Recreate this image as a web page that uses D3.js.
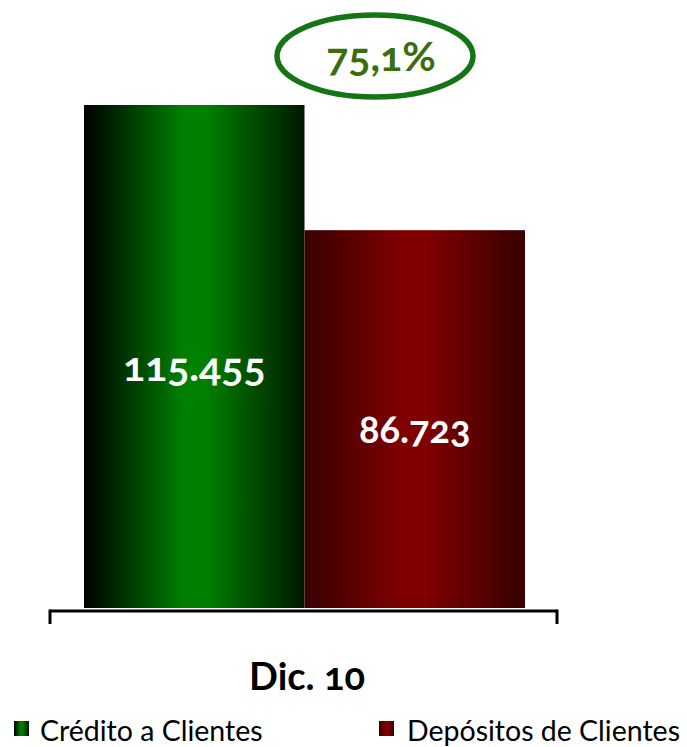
<!DOCTYPE html>
<html><head><meta charset="utf-8">
<script src="https://cdn.jsdelivr.net/npm/d3@7/dist/d3.min.js"></script>
<style>
body{margin:0;background:#fff;}
text{font-family:Lato,"Open Sans",sans-serif;font-variant-numeric:oldstyle-nums;font-feature-settings:"onum" 1;}
</style></head><body>
<svg id="c" width="687" height="747"></svg>
<script>
const categories = ["Dic. 10"];
const series = ["Crédito a Clientes", "Depósitos de Clientes"];
const values = [115455, 86723];
const valueLabels = ["115.455", "86.723"];
const ratioLabel = "75,1%";

const svg = d3.select("#c");
const defs = svg.append("defs");
const grads = [
  {id:"gG", edgeL:"#000000", mid:"#008000", edgeR:"#001800"},
  {id:"gR", edgeL:"#380000", mid:"#800000", edgeR:"#380000"}
];
grads.forEach(g=>{
  const lg = defs.append("linearGradient").attr("id",g.id).attr("x1","0").attr("x2","1").attr("y1","0").attr("y2","0");
  lg.append("stop").attr("offset","0").attr("stop-color",g.edgeL);
  lg.append("stop").attr("offset","0.45").attr("stop-color",g.mid);
  lg.append("stop").attr("offset","0.55").attr("stop-color",g.mid);
  lg.append("stop").attr("offset","1").attr("stop-color",g.edgeR);
});

const baseY = 608;
const y = d3.scaleLinear().domain([0, 115455]).range([baseY, 105]);
const x0 = d3.scaleBand().domain(categories).range([84, 525]).padding(0);
const x1 = d3.scaleBand().domain(series).range([0, x0.bandwidth()]);

const g = svg.append("g");
g.selectAll("rect.bar").data(series.map((s,i)=>({s,i,v:values[i]})))
  .enter().append("rect").attr("class","bar")
  .attr("x", d=>x0(categories[0]) + x1(d.s))
  .attr("width", x1.bandwidth())
  .attr("y", d=>y(d.v))
  .attr("height", d=>baseY - y(d.v))
  .attr("fill", d=>`url(#${grads[d.i].id})`);

g.selectAll("text.val").data(series.map((s,i)=>({s,i,v:values[i]})))
  .enter().append("text").attr("class","val")
  .attr("x", d=>x0(categories[0]) + x1(d.s) + x1.bandwidth()/2)
  .attr("y", d=>(y(d.v)+baseY)/2 + 24)
  .attr("text-anchor","middle")
  .attr("fill","#fff").attr("font-weight","bold")
  .attr("font-size", (d)=>d.i===0?41:38)
  .text(d=>valueLabels[d.i]);

// axis
const axis = svg.append("g");
axis.append("line").attr("x1",50).attr("x2",557).attr("y1",611).attr("y2",611).attr("stroke","#000").attr("stroke-width",3);
[50,557].forEach(xx=>axis.append("line").attr("x1",xx).attr("x2",xx).attr("y1",609.5).attr("y2",624).attr("stroke","#000").attr("stroke-width",3));

svg.append("text").attr("x", 307).attr("y", 690)
  .attr("text-anchor","middle").attr("font-weight","bold").attr("font-size",38).attr("fill","#000")
  .text(categories[0]);

// ellipse ratio
svg.append("ellipse").attr("cx",375).attr("cy",56).attr("rx",98).attr("ry",41)
  .attr("fill","none").attr("stroke","#157515").attr("stroke-width",5.5);
svg.append("text").attr("x",381).attr("y",71).attr("text-anchor","middle")
  .attr("font-weight","bold").attr("font-size",41).attr("fill","#3a6e0c").text(ratioLabel);

// legend
const leg = [{x:14, tx:40, i:0}, {x:379, tx:407, i:1}];
leg.forEach(l=>{
  svg.append("rect").attr("x",l.x).attr("y",721).attr("width",15).attr("height",15).attr("fill",`url(#${grads[l.i].id})`);
  svg.append("text").attr("x",l.tx).attr("y",741).attr("font-size",28.5).attr("fill","#000").text(series[l.i]);
});
</script></body></html>
